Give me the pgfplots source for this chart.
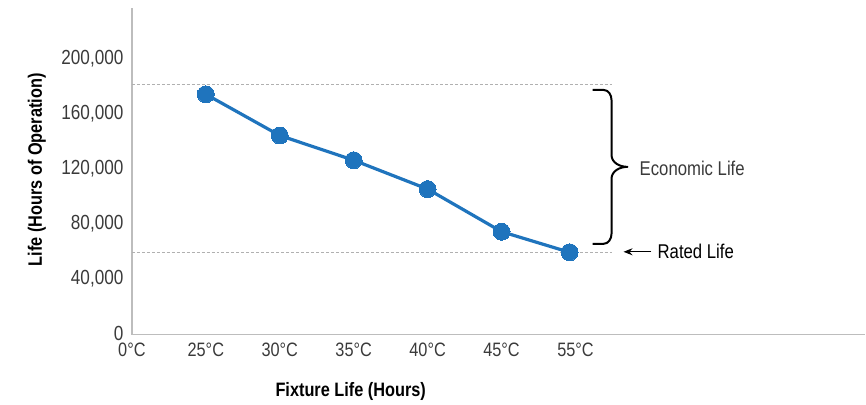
\documentclass[border=0pt]{standalone}
\usepackage{pgfplots}
\pgfplotsset{compat=1.18}
\usepackage{fontspec}
\setmainfont{Liberation Sans}[FakeStretch=0.84]
\usetikzlibrary{arrows.meta}
\definecolor{lineblue}{HTML}{1F74BD}
\definecolor{axisgrey}{HTML}{BDBDBD}
\definecolor{dashgrey}{HTML}{B0B0B0}
\definecolor{ticktext}{HTML}{3A3A3A}
\begin{document}
\begin{tikzpicture}
\path (-132bp,-70bp) rectangle (734bp,335bp);
\begin{axis}[
  anchor=origin, at={(0,0)},
  scale only axis,
  width=734bp, height=327bp,
  xmin=0, xmax=9.92,
  ymin=0, ymax=237800,
  axis x line=bottom, axis y line=left,
  axis line style={-, draw=axisgrey, line width=1.4bp},
  major tick length=0pt,
  xtick={0,1,2,3,4,5,6},
  xticklabels={0°C,25°C,30°C,35°C,40°C,45°C,55°C},
  ytick={0,40000,80000,120000,160000,200000},
  yticklabels={0,{40,000},{80,000},{120,000},{160,000},{200,000}},
  scaled y ticks=false,
  tick label style={text=ticktext},
  yticklabel style={font=\fontsize{20.5}{22}\selectfont, xshift=-5bp, yshift=1.5bp},
  xticklabel style={font=\fontsize{19.5}{22}\selectfont, yshift=-5bp},
  clip=false,
]
\addplot[dashgrey, densely dashed, line width=0.8bp, forget plot] coordinates {(0,182000) (6.5,182000)};
\addplot[dashgrey, densely dashed, line width=0.8bp, forget plot] coordinates {(0,60000) (6.5,60000)};
\addplot[lineblue, line width=3.2bp, mark=*, mark size=8.5bp, mark options={fill=lineblue, draw=lineblue, line width=0pt}]
  coordinates {(1,175000) (2,145000) (3,127000) (4,106000) (5,75000) (5.92,60000)};
\end{axis}
% annotations
\draw[black, line width=2bp, line join=round]
  (461bp,245bp) -- (472bp,245bp) to[out=0,in=90] (480bp,235bp) -- (480bp,180bp)
  to[out=-90,in=180] (496bp,168bp) to[out=180,in=90] (480bp,156bp) -- (480bp,101bp)
  to[out=-90,in=0] (472bp,91bp) -- (461bp,91bp);
\node[anchor=west, inner sep=0pt, font=\fontsize{20}{22}\selectfont, text=ticktext] at (508bp,166bp) {Economic Life};
\draw[-{Stealth[length=9bp,width=7bp]}, line width=1.2bp] (520bp,83bp) -- (492bp,83bp);
\node[anchor=west, inner sep=0pt, font=\fontsize{20}{22}\selectfont, text=black] at (526bp,83bp) {Rated Life};
\node[rotate=90, font=\bfseries\fontsize{19.5}{22}\selectfont] at (-95bp,165bp) {Life (Hours of Operation)};
\node[font=\bfseries\fontsize{19.5}{22}\selectfont] at (219bp,-57bp) {Fixture Life (Hours)};
\end{tikzpicture}
\end{document}
